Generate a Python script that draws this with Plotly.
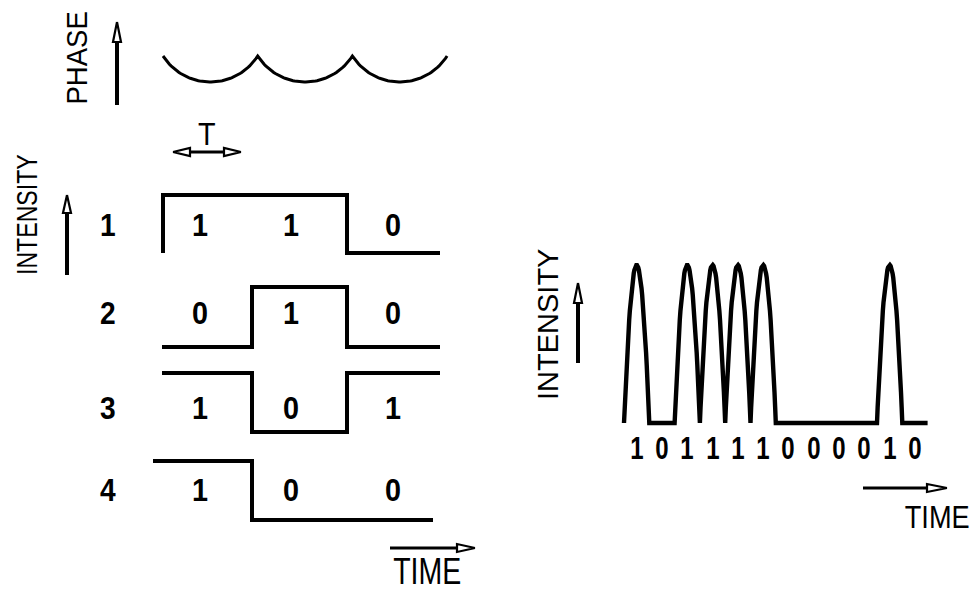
import json
import numpy as np
import plotly.graph_objects as go

W, H = 978, 592

# ---------------- data ----------------
row_names = ["1", "2", "3", "4"]
row_bits = [[1, 1, 0], [0, 1, 0], [1, 0, 1], [1, 0, 0]]
row_lead_edge = [True, False, False, False]
phase_slots = [0, 1, 2]
serial_bits = [1, 0, 1, 1, 1, 1, 0, 0, 0, 0, 1, 0]
label_phase = "PHASE"
label_intensity = "INTENSITY"
label_time = "TIME"
label_period = "T"

# ---------------- layout constants (pixels in a 978x592 frame) ----------------
LW = 4.0
INK = "black"
REG = "Liberation Sans, Arial"

PH_X0, PH_T, PH_TOP, PH_DEPTH = 163, 94.7, 56, 26

ROW_X0 = [163, 162, 162, 153]
ROW_X_END = [440, 440, 440, 433]
ROW_EDGES = [252, 347]
ROW_TOP = [195, 287, 373, 461]
ROW_AMP = [58, 60, 59, 59]
ROW_LABEL_Y = [225, 313, 408, 490]
BIT_LABEL_X = [200, 291, 393]
ROW_NAME_X = 108

R_X0, R_T, R_BASE, R_PEAK = 624, 25.3, 423, 158
R_LABEL_Y = 448

fig = go.Figure()
text_stretch = []   # horizontal condensing per annotation (scanned condensed lettering)


def line(xs, ys, width=LW):
    fig.add_trace(go.Scatter(x=xs, y=ys, mode="lines",
                             line=dict(color=INK, width=width),
                             hoverinfo="skip", showlegend=False))


def head(tip_x, tip_y, dx, dy, length=18, half=4.5):
    # open (white) arrow head pointing in direction (dx, dy)
    bx, by = tip_x - dx * length, tip_y - dy * length
    px, py = -dy * half, dx * half
    xs = [tip_x, bx + px, bx - px, tip_x]
    ys = [tip_y, by + py, by - py, tip_y]
    fig.add_trace(go.Scatter(x=xs, y=ys, mode="lines", fill="toself",
                             fillcolor="white", line=dict(color=INK, width=2.2),
                             hoverinfo="skip", showlegend=False))


def arrow(x0, y0, x1, y1, length=18, half=4.5, both=False, width=LW):
    d = np.hypot(x1 - x0, y1 - y0)
    dx, dy = (x1 - x0) / d, (y1 - y0) / d
    off = length if both else 0
    line([x0 + dx * off, x1 - dx * length], [y0 + dy * off, y1 - dy * length], width)
    head(x1, y1, dx, dy, length, half)
    if both:
        head(x0, y0, -dx, -dy, length, half)


def text(x, y, s, size, angle=0, bold=False, stretch=1.0):
    fig.add_annotation(x=x, y=y, xref="x", yref="y", text=s, showarrow=False,
                       textangle=angle, xanchor="center", yanchor="middle",
                       font=dict(family=REG, size=size, color=INK,
                                 weight="bold" if bold else "normal"))
    text_stretch.append(stretch)


# ---- phase curve (circular scallops, one per symbol slot) ----
chord = PH_T
r = (chord ** 2 / 4 + PH_DEPTH ** 2) / (2 * PH_DEPTH)
cy = PH_TOP + PH_DEPTH - r
px, py = [], []
for k in phase_slots:
    a = PH_X0 + k * PH_T
    xs = np.linspace(a, a + PH_T, 60)
    mid = a + PH_T / 2
    ys = cy + np.sqrt(np.maximum(r ** 2 - (xs - mid) ** 2, 0))
    px += list(xs)
    py += list(ys)
line(px, py, 3.0)

# ---- four binary intensity rows ----
for i, bits in enumerate(row_bits):
    top, low = ROW_TOP[i], ROW_TOP[i] + ROW_AMP[i]
    bounds = [ROW_X0[i]] + ROW_EDGES + [ROW_X_END[i]]
    xs, ys = [], []
    if row_lead_edge[i]:
        xs.append(bounds[0]); ys.append(low)
    for k, b in enumerate(bits):
        lv = top if b else low
        xs += [bounds[k], bounds[k + 1]]
        ys += [lv, lv]
    line(xs, ys)
    text(ROW_NAME_X, ROW_LABEL_Y[i], row_names[i], 32, bold=True, stretch=0.88)
    for k, b in enumerate(bits):
        text(BIT_LABEL_X[k], ROW_LABEL_Y[i], str(b), 32, bold=True, stretch=0.9)

# ---- serial pulse train (parabolic pulses) ----
xs, ys = [], []
for k, b in enumerate(serial_bits):
    a = R_X0 + k * R_T
    if b:
        u = np.linspace(0, 1, 40)
        xs += list(a + u * R_T)
        ys += list(R_BASE - R_PEAK * (1 - (2 * u - 1) ** 2))
    else:
        xs += [a, a + R_T]
        ys += [R_BASE, R_BASE]
    text(a + R_T / 2, R_LABEL_Y, str(b), 32, bold=True, stretch=0.75)
line(xs, ys, 4.4)

# ---- axis arrows ----
arrow(117, 105, 117, 22, length=20, half=4)          # phase
arrow(67, 275, 67, 195, length=18, half=4)           # left intensity
arrow(173, 152, 241, 152, length=17, half=4, both=True, width=2.8)  # T
arrow(390, 548, 475, 548, length=18, half=4, width=2.8)   # left time
arrow(578, 363, 578, 283, length=20, half=4)         # right intensity
arrow(863, 488, 947, 488, length=20, half=4, width=2.8)   # right time

# ---- texts ----
text(77, 58, label_phase, 29, -90, stretch=0.95)
text(207, 134, label_period, 32, stretch=0.9)
text(26, 215, label_intensity, 30, -90, stretch=0.77)
text(427, 571, label_time, 37, stretch=0.77)
text(548, 325, label_intensity, 29, -90, stretch=1.0)
text(937, 517, label_time, 32, stretch=0.85)

fig.update_layout(
    width=W, height=H, margin=dict(l=0, r=0, t=0, b=0),
    paper_bgcolor="white", plot_bgcolor="white", showlegend=False,
    xaxis=dict(range=[0, W], visible=False, fixedrange=True),
    yaxis=dict(range=[H, 0], visible=False, fixedrange=True),
)

post = """
document.body.style.margin='0px';
document.body.style.overflow='hidden';
var sx = %s;
var gd = document.getElementById('{plot_id}');
gd.querySelectorAll('g.annotation').forEach(function(g){
  var i = +g.getAttribute('data-index');
  var s = sx[i];
  if (!s || s === 1) return;
  var t = g.querySelector('text.annotation-text');
  if (!t) return;
  var b = t.getBBox();
  var cx = b.x + b.width / 2;
  t.setAttribute('transform', 'translate(' + cx + ',0) scale(' + s + ',1) translate(' + (-cx) + ',0)');
});
""" % json.dumps(text_stretch)

fig.write_html("out.html", config={"displayModeBar": False}, post_script=post)
